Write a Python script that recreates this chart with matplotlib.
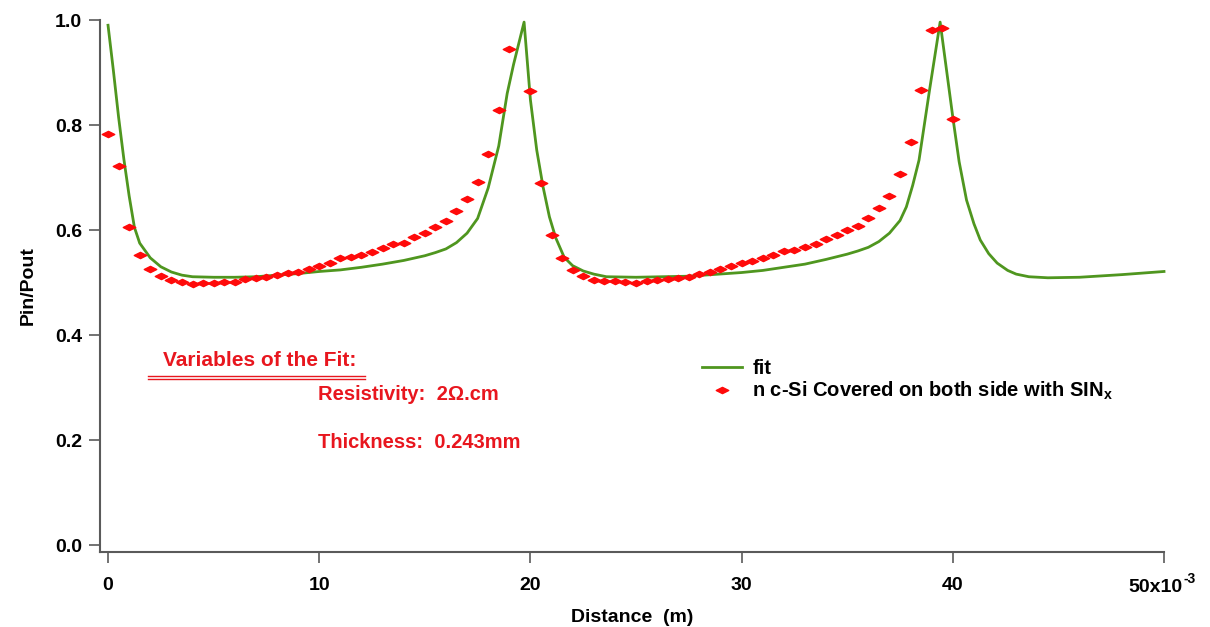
import numpy as np
import matplotlib
matplotlib.use('Agg')
import matplotlib.pyplot as plt
from matplotlib.path import Path
from matplotlib.lines import Line2D

plt.rcParams['font.family'] = ['Liberation Sans', 'DejaVu Sans']
plt.rcParams['font.weight'] = 'bold'
plt.rcParams['mathtext.fontset'] = 'custom'
plt.rcParams['mathtext.rm'] = 'Liberation Sans:bold'
plt.rcParams['mathtext.it'] = 'Liberation Sans:bold'
plt.rcParams['mathtext.bf'] = 'Liberation Sans:bold'
plt.rcParams['mathtext.default'] = 'rm'

# measured data (distance in units of 1e-3 m)
meas_x = [0.0, 0.5, 1.0, 1.5, 2.0, 2.5, 3.0, 3.5, 4.0, 4.5, 5.0, 5.5, 6.0, 6.5,
          7.0, 7.5, 8.0, 8.5, 9.0, 9.5, 10.0, 10.5, 11.0, 11.5, 12.0, 12.5,
          13.0, 13.5, 14.0, 14.5, 15.0, 15.5, 16.0, 16.5, 17.0, 17.5, 18.0,
          18.5, 19.0, 20.0, 20.5, 21.0, 21.5, 22.0, 22.5, 23.0, 23.5, 24.0,
          24.5, 25.0, 25.5, 26.0, 26.5, 27.0, 27.5, 28.0, 28.5, 29.0, 29.5,
          30.0, 30.5, 31.0, 31.5, 32.0, 32.5, 33.0, 33.5, 34.0, 34.5, 35.0,
          35.5, 36.0, 36.5, 37.0, 37.5, 38.0, 38.5, 39.0, 39.5, 40.0]
meas_y = [0.783, 0.722, 0.606, 0.552, 0.526, 0.512, 0.505, 0.501, 0.497, 0.499,
          0.499, 0.501, 0.501, 0.507, 0.509, 0.510, 0.514, 0.518, 0.520, 0.526,
          0.531, 0.538, 0.546, 0.549, 0.552, 0.558, 0.566, 0.573, 0.575, 0.587,
          0.594, 0.606, 0.617, 0.636, 0.659, 0.691, 0.745, 0.829, 0.945, 0.865,
          0.690, 0.590, 0.547, 0.524, 0.512, 0.505, 0.503, 0.503, 0.501, 0.499,
          0.503, 0.505, 0.507, 0.509, 0.510, 0.516, 0.520, 0.526, 0.531, 0.537,
          0.541, 0.547, 0.552, 0.560, 0.562, 0.568, 0.573, 0.583, 0.590, 0.600,
          0.608, 0.623, 0.642, 0.665, 0.707, 0.768, 0.867, 0.981, 0.985, 0.811]

# fit curve
fit_x = [0.0, 0.25, 0.5, 0.75, 1.0, 1.25, 1.5, 2.0, 2.5, 3.0, 3.5, 4.0, 5.0, 6.0,
         7.0, 8.0, 9.0, 10.0, 11.0, 12.0, 13.0, 14.0, 15.0, 15.5, 16.0, 16.5,
         17.0, 17.5, 18.0, 18.5, 18.9, 19.2, 19.7, 20.0, 20.3, 20.6, 20.9, 21.2,
         21.6, 22.0, 22.5, 23.0, 23.6, 25.0, 27.5, 30.0, 31.0, 32.0, 33.0, 34.0,
         35.0, 35.5, 36.0, 36.5, 37.0, 37.5, 37.8, 38.1, 38.4, 38.9, 39.4, 40.0,
         40.3, 40.65, 41.0, 41.3, 41.7, 42.1, 42.6, 43.0, 43.6, 44.5, 46.0, 48.0,
         50.0]
fit_y = [0.990, 0.905, 0.815, 0.735, 0.665, 0.605, 0.575, 0.547, 0.530, 0.520,
         0.514, 0.511, 0.510, 0.510, 0.511, 0.514, 0.517, 0.521, 0.524, 0.529,
         0.535, 0.542, 0.551, 0.557, 0.564, 0.576, 0.594, 0.622, 0.680, 0.760,
         0.860, 0.915, 0.996, 0.848, 0.752, 0.682, 0.625, 0.585, 0.548, 0.532,
         0.522, 0.516, 0.511, 0.510, 0.512, 0.519, 0.523, 0.529, 0.535, 0.544,
         0.554, 0.560, 0.567, 0.578, 0.594, 0.618, 0.644, 0.685, 0.733, 0.867,
         0.996, 0.815, 0.730, 0.657, 0.612, 0.581, 0.555, 0.537, 0.523, 0.516,
         0.511, 0.509, 0.510, 0.515, 0.521]

x_ticks = [0, 10, 20, 30, 40, 50]
x_ticklabels = ['0', '10', '20', '30', '40', '']
y_ticks = [0.0, 0.2, 0.4, 0.6, 0.8, 1.0]

W, H = 1210, 627
fig = plt.figure(figsize=(W / 100, H / 100), dpi=100)
ax = fig.add_axes([100 / W, 1 - 552 / H, (1164 - 100) / W, (552 - 20) / H])

green = '#4f961f'
red = '#ff0a0a'
txt_red = '#e8161e'

# flat diamond marker
diamond = Path([(-1, 0), (0, 0.5), (1, 0), (0, -0.5), (-1, 0)],
               [Path.MOVETO, Path.LINETO, Path.LINETO, Path.LINETO, Path.CLOSEPOLY])

ax.plot(fit_x, fit_y, color=green, lw=2.0, label='fit', zorder=2, clip_on=False)
ax.plot(meas_x, meas_y, ls='none', marker=diamond, ms=9, color=red, mec=red,
        label=r'n c-Si Covered on both side with SIN$_{x}$', zorder=3, clip_on=False)

ax.set_xlim(-0.38, 50)
ax.set_ylim(-0.0133, 1.0)
ax.set_xticks(x_ticks)
ax.set_xticklabels(x_ticklabels)
ax.set_yticks(y_ticks)
ax.set_yticklabels(['%.1f' % v for v in y_ticks])

for side in ['top', 'right']:
    ax.spines[side].set_visible(False)
for side in ['left', 'bottom']:
    ax.spines[side].set_color('#5a5a5a')
    ax.spines[side].set_linewidth(1.5)
ax.tick_params(direction='out', length=8, width=1.2, color='#5a5a5a',
               labelsize=14, pad=5)
ax.tick_params(axis='x', pad=10)

# last x tick label with exponent
ax.annotate('50x10', xy=(50, 0), xycoords=('data', 'axes fraction'),
            xytext=(19, -40), textcoords='offset pixels', ha='right',
            va='baseline', fontsize=14, fontweight='bold')
ax.annotate('-3', xy=(50, 0), xycoords=('data', 'axes fraction'),
            xytext=(20, -31), textcoords='offset pixels', ha='left',
            va='baseline', fontsize=10, fontweight='bold')

ax.set_xlabel('Distance  (m)', fontsize=14, fontweight='bold', va='center')
ax.xaxis.set_label_coords(0.5, (552 - 617) / 532)
ax.set_ylabel('Pin/Pout', fontsize=14, fontweight='bold', va='center')
ax.yaxis.set_label_coords((28 - 100) / 1064, 0.5)

leg = ax.legend(loc='upper left', bbox_to_anchor=(702 / W, 1 - 359 / H),
                bbox_transform=fig.transFigure, frameon=False, fontsize=14.5,
                handlelength=2.0, handletextpad=0.5, labelspacing=0.1,
                borderpad=0, borderaxespad=0, numpoints=1)

# annotation
fig.text(163 / W, 1 - 361 / H, 'Variables of the Fit:', color=txt_red,
         fontsize=15, fontweight='bold', va='center')
for yy in (376, 379):
    fig.add_artist(Line2D([148 / W, 365 / W], [1 - yy / H, 1 - yy / H],
                          color=txt_red, lw=1.0))
fig.text(318 / W, 1 - 395 / H, 'Resistivity:  2\u03a9.cm', color=txt_red,
         fontsize=14.5, fontweight='bold', va='center')
fig.text(318 / W, 1 - 442 / H, 'Thickness:  0.243mm', color=txt_red,
         fontsize=14.5, fontweight='bold', va='center')

fig.savefig('out.png', dpi=100)
